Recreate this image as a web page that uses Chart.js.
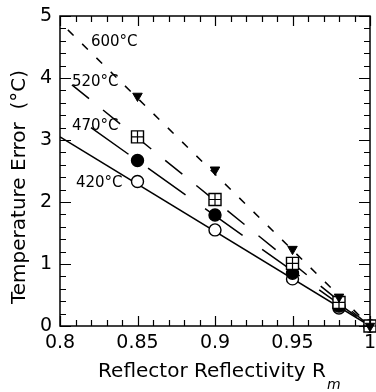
<!DOCTYPE html>
<html><head><meta charset="utf-8">
<script src="https://cdn.jsdelivr.net/npm/chart.js@4/dist/chart.umd.min.js"></script>
<style>html,body{margin:0;padding:0;background:#fff}#wrap{width:376px;height:392px}</style>
</head><body><div id="wrap"><canvas id="c" width="376" height="392"></canvas></div>
<script>
// ---- data ----
const reflectivity = [0.85, 0.90, 0.95, 0.98, 1.00];
const err600 = [3.71, 2.52, 1.24, 0.47, 0];
const err520 = [3.05, 2.04, 1.01, 0.38, 0];
const err470 = [2.67, 1.79, 0.85, 0.32, 0];
const err420 = [2.33, 1.55, 0.76, 0.29, 0];
const fitX600 = [0.80, 1.00], fit600 = [4.90, 0];
const fitX520 = [0.8077, 1.00], fit520 = [3.89, 0];
const fitX470 = [0.82, 1.00], fit470 = [3.20, 0];
const fitX420 = [0.80, 1.00], fit420 = [3.05, 0];
const seriesLabels = ['600°C', '520°C', '470°C', '420°C'];
const xTicks = [0.8, 0.85, 0.9, 0.95, 1];
const yTicks = [0, 1, 2, 3, 4, 5];
const xTitle = 'Reflector Reflectivity R';
const xTitleSub = 'm';
const yTitle = 'Temperature Error  (°C)';

const pts = (xs, ys) => xs.map((x, i) => ({x, y: ys[i]}));
const FONT = 'DejaVu Sans';

const lineDs = (xs, ys, dash, off) => ({
  data: pts(xs, ys), showLine: true, borderColor: '#000', borderWidth: 1.5,
  borderDash: dash, borderDashOffset: off || 0, pointRadius: 0, fill: false, order: 10
});
const markDs = (ys, style, r, fillc, order, extra) => Object.assign({
  data: pts(reflectivity, ys), showLine: false, pointStyle: style, pointRadius: r,
  pointBackgroundColor: fillc, pointBorderColor: '#000', pointBorderWidth: 1.4, order, clip: false
}, extra || {});

const frame = {
  id: 'frame',
  afterDraw(chart) {
    const {ctx, chartArea: a, scales: {x, y}} = chart;
    ctx.save();
    ctx.strokeStyle = '#000'; ctx.lineWidth = 1.5;
    ctx.strokeRect(a.left, a.top, a.right - a.left, a.bottom - a.top);
    ctx.lineWidth = 1.2;
    ctx.beginPath();
    for (let i = 0; i <= 20; i++) {
      const v = 0.8 + i * 0.01;
      const major = i % 5 === 0;
      const L = major ? 10 : 6;
      const px = Math.round(x.getPixelForValue(v)) + 0.5;
      ctx.moveTo(px, a.bottom); ctx.lineTo(px, a.bottom - L);
      ctx.moveTo(px, a.top); ctx.lineTo(px, a.top + L);
    }
    for (let i = 0; i <= 25; i++) {
      const v = i * 0.2;
      const major = i % 5 === 0;
      const L = major ? 11 : 6;
      const py = Math.round(y.getPixelForValue(v)) + 0.5;
      ctx.moveTo(a.left, py); ctx.lineTo(a.left + L, py);
      ctx.moveTo(a.right, py); ctx.lineTo(a.right - L, py);
    }
    ctx.stroke();
    // series labels
    ctx.fillStyle = '#000';
    ctx.font = '15px "' + FONT + '"';
    ctx.textBaseline = 'middle';
    const anchors = [[0.835, 4.58, 'center'], [0.8077, 3.94, 'left'], [0.8077, 3.23, 'left'], [0.8103, 2.31, 'left']];
    anchors.forEach((an, i) => {
      ctx.textAlign = an[2];
      ctx.fillText(seriesLabels[i], x.getPixelForValue(an[0]), y.getPixelForValue(an[1]));
    });
    // x title with subscript
    ctx.font = '20px "' + FONT + '"';
    ctx.textAlign = 'left';
    const w = ctx.measureText(xTitle).width;
    const cx = 212, cy = 372;
    ctx.fillText(xTitle, cx - w / 2, cy);
    ctx.font = 'italic 14px "' + FONT + '"';
    ctx.fillText(xTitleSub, cx + w / 2 + 1, cy + 13);
    // y title
    ctx.font = '20px "' + FONT + '"';
    ctx.textAlign = 'center';
    ctx.translate(20, 187);
    ctx.rotate(-Math.PI / 2);
    ctx.fillText(yTitle, 0, 0);
    ctx.restore();
  }
};

new Chart(document.getElementById('c'), {
  type: 'scatter',
  data: {
    datasets: [
      lineDs(fitX600, fit600, [8, 12], 9),
      lineDs(fitX520, fit520, [22, 18]),
      lineDs(fitX470, fit470, [46, 24]),
      lineDs(fitX420, fit420, []),
      markDs(err420, 'circle', 6, '#fff', 4),
      markDs(err470, 'circle', 6, '#000', 3),
      markDs(err520, 'rect', 8.5, '#fff', 2),
      markDs(err520, 'cross', 6, '#000', 1, {pointBorderWidth: 1.2}),
      markDs(err600, 'triangle', 5.5, '#000', 0, {pointRotation: 180, pointBorderWidth: 1})
    ]
  },
  options: {
    responsive: false, animation: false, devicePixelRatio: 1,
    layout: {autoPadding: false, padding: {top: 16, right: 6, left: 0, bottom: 0}},
    plugins: {legend: {display: false}, tooltip: {enabled: false}},
    scales: {
      x: {
        type: 'linear', min: 0.8, max: 1,
        afterBuildTicks: s => { s.ticks = xTicks.map(v => ({value: v})); },
        afterFit: s => { s.height = 66; s.paddingLeft = 0; s.paddingRight = 0; },
        ticks: {callback: v => String(+(+v).toFixed(2)), color: '#000', font: {family: FONT, size: 19}, padding: 6, maxRotation: 0, autoSkip: false},
        grid: {display: false, drawTicks: false}, border: {display: false}
      },
      y: {
        min: 0, max: 5,
        afterBuildTicks: s => { s.ticks = yTicks.map(v => ({value: v})); },
        afterFit: s => { s.width = 60; s.paddingTop = 0; s.paddingBottom = 0; },
        ticks: {callback: v => String(v), color: '#000', font: {family: FONT, size: 19}, padding: 8, autoSkip: false},
        grid: {display: false, drawTicks: false}, border: {display: false}
      }
    }
  },
  plugins: [frame]
});
</script>
</body></html>
